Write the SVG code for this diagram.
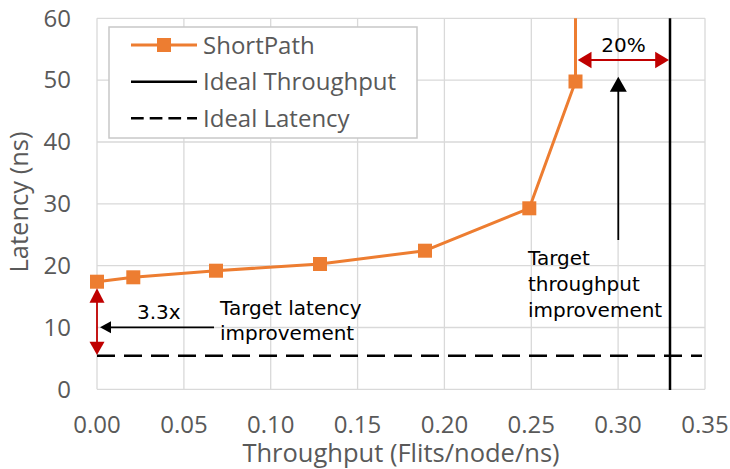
<svg xmlns="http://www.w3.org/2000/svg" width="730" height="469" viewBox="0 0 730 469">
  <style>
    .grid { stroke: #D9D9D9; stroke-width: 1.3; fill: none; }
    .tick { font-family: "Open Sans", "Noto Sans", sans-serif; font-size: 24px; fill: #595959; }
    .title { font-family: "Open Sans", "Noto Sans", sans-serif; font-size: 25.5px; fill: #595959; }
    .legend { font-family: "Open Sans", "Noto Sans", sans-serif; font-size: 24px; fill: #595959; }
    .note { font-family: "DejaVu Sans", Verdana, sans-serif; font-size: 20px; fill: #000000; }
    .series { stroke: #ED7D31; stroke-width: 3; fill: none; stroke-linejoin: round; }
    .marker { fill: #ED7D31; }
    .red { stroke: #C00000; stroke-width: 1.8; fill: none; }
    .redhead { fill: #C00000; }
    .blk { stroke: #000000; stroke-width: 1.8; fill: none; }
  </style>
  <defs>
    <clipPath id="plotClip">
      <rect x="90" y="18.3" width="620" height="372"/>
    </clipPath>
  </defs>

  <rect x="0" y="0" width="730" height="469" fill="#FFFFFF"/>

  <!-- plot grid -->
  <g id="grid" class="grid">
    <line x1="97" y1="18.3" x2="705" y2="18.3"/>
    <line x1="97" y1="80.2" x2="705" y2="80.2"/>
    <line x1="97" y1="142" x2="705" y2="142"/>
    <line x1="97" y1="203.8" x2="705" y2="203.8"/>
    <line x1="97" y1="265.6" x2="705" y2="265.6"/>
    <line x1="97" y1="327.5" x2="705" y2="327.5"/>
    <line x1="97" y1="389.3" x2="705" y2="389.3"/>
    <line x1="97" y1="18.3" x2="97" y2="389.3"/>
    <line x1="183.9" y1="18.3" x2="183.9" y2="389.3"/>
    <line x1="270.7" y1="18.3" x2="270.7" y2="389.3"/>
    <line x1="357.6" y1="18.3" x2="357.6" y2="389.3"/>
    <line x1="444.4" y1="18.3" x2="444.4" y2="389.3"/>
    <line x1="531.3" y1="18.3" x2="531.3" y2="389.3"/>
    <line x1="618.1" y1="18.3" x2="618.1" y2="389.3"/>
    <line x1="705" y1="18.3" x2="705" y2="389.3"/>
  </g>

  <!-- axis tick labels -->
  <g id="y-ticks" class="tick" text-anchor="end">
    <text x="71" y="26.5">60</text>
    <text x="71" y="88.4">50</text>
    <text x="71" y="150.2">40</text>
    <text x="71" y="212">30</text>
    <text x="71" y="273.8">20</text>
    <text x="71" y="335.7">10</text>
    <text x="71" y="397.5">0</text>
  </g>
  <g id="x-ticks" class="tick" text-anchor="middle">
    <text x="97" y="433">0.00</text>
    <text x="183.9" y="433">0.05</text>
    <text x="270.7" y="433">0.10</text>
    <text x="357.6" y="433">0.15</text>
    <text x="444.4" y="433">0.20</text>
    <text x="531.3" y="433">0.25</text>
    <text x="618.1" y="433">0.30</text>
    <text x="705" y="433">0.35</text>
  </g>

  <!-- axis titles -->
  <text id="x-title" class="title" x="401" y="462" text-anchor="middle">Throughput (Flits/node/ns)</text>
  <text id="y-title" class="title" transform="translate(27.5 202) rotate(-90)" text-anchor="middle">Latency (ns)</text>

  <!-- reference lines -->
  <g id="ideal-latency">
    <line x1="97" y1="355.7" x2="702" y2="355.7" stroke="#000000" stroke-width="2.5" stroke-dasharray="18 9"/>
  </g>
  <g id="ideal-throughput">
    <line x1="670" y1="18.3" x2="670" y2="390" stroke="#000000" stroke-width="2.5"/>
  </g>

  <!-- measured series -->
  <g id="shortpath" clip-path="url(#plotClip)">
    <polyline class="series" points="97,281.7 133.3,277.3 216,270.7 320,264 425,250.7 529.3,208.3 575.5,81.5 575.5,10"/>
    <rect class="marker" x="90" y="274.7" width="14" height="14"/>
    <rect class="marker" x="126.3" y="270.3" width="14" height="14"/>
    <rect class="marker" x="209" y="263.7" width="14" height="14"/>
    <rect class="marker" x="313" y="257" width="14" height="14"/>
    <rect class="marker" x="418" y="243.7" width="14" height="14"/>
    <rect class="marker" x="522.3" y="201.3" width="14" height="14"/>
    <rect class="marker" x="568.5" y="74.5" width="14" height="14"/>
  </g>

  <!-- legend -->
  <g id="legend">
    <rect x="109" y="27" width="308" height="111" fill="#FFFFFF" stroke="#C8C8C8" stroke-width="1.5"/>
    <line x1="131" y1="45" x2="197" y2="45" stroke="#ED7D31" stroke-width="3"/>
    <rect class="marker" x="157" y="38" width="14" height="14"/>
    <text class="legend" x="203" y="53.5">ShortPath</text>
    <line x1="131" y1="81.7" x2="197" y2="81.7" stroke="#000000" stroke-width="2.5"/>
    <text class="legend" x="203" y="90">Ideal Throughput</text>
    <line x1="131" y1="118.3" x2="197" y2="118.3" stroke="#000000" stroke-width="2.5" stroke-dasharray="12.7 6"/>
    <text class="legend" x="203" y="126.7">Ideal Latency</text>
  </g>

  <!-- latency gap annotation -->
  <g id="latency-gap">
    <line class="red" x1="97" y1="300" x2="97" y2="344"/>
    <polygon class="redhead" points="97,288.3 89.5,302.7 104.5,302.7"/>
    <polygon class="redhead" points="97,355 89.5,341.7 104.5,341.7"/>
    <text class="note" x="137" y="319">3.3x</text>
  </g>
  <g id="latency-note">
    <line class="blk" x1="108" y1="327.3" x2="214" y2="327.3"/>
    <polygon fill="#000000" points="100,327.3 111,321.3 111,333.3"/>
    <text class="note" x="220" y="315">Target latency</text>
    <text class="note" x="220" y="340">improvement</text>
  </g>

  <!-- throughput gap annotation -->
  <g id="throughput-gap">
    <line class="red" x1="589" y1="60" x2="657" y2="60"/>
    <polygon class="redhead" points="577.7,60 591.5,51.7 591.5,68.3"/>
    <polygon class="redhead" points="669,60 655.2,51.7 655.2,68.3"/>
    <text class="note" x="623.5" y="51.7" text-anchor="middle">20%</text>
  </g>
  <g id="throughput-note">
    <line class="blk" x1="618.3" y1="89" x2="618.3" y2="240"/>
    <polygon fill="#000000" points="618.3,76.7 609.8,91.7 626.8,91.7"/>
    <text class="note" x="528" y="265">Target</text>
    <text class="note" x="528" y="290.7">throughput</text>
    <text class="note" x="528" y="316.7">improvement</text>
  </g>
</svg>
